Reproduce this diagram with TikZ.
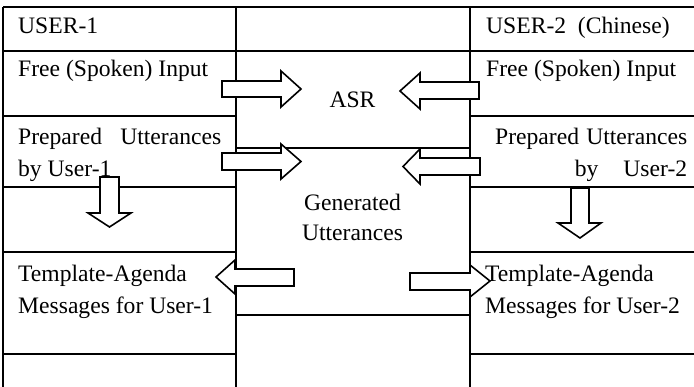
\documentclass[tikz,border=0pt]{standalone}
\usepackage{fontspec}
\setmainfont{Liberation Serif}
\begin{document}
\begin{tikzpicture}[x=1pt,y=-1pt,
  grid/.style={line width=1.9pt},
  boxline/.style={line width=2.2pt},
  thinline/.style={line width=1.3pt},
  blockarrow/.style={draw=black,fill=white,line width=1.6pt,line join=miter},
  lbl/.style={inner sep=0pt,anchor=base west,font=\fontsize{23.6}{31.5}\selectfont},
  lblc/.style={inner sep=0pt,anchor=base,font=\fontsize{23.6}{31.5}\selectfont}]
\useasboundingbox (0,0) rectangle (694,387);
% table grid
\draw[grid] (3,7) -- (694,7);
\draw[grid] (3,51) -- (694,51);
\draw[grid] (3,7) -- (3,387);
\draw[grid] (236,7) -- (236,387);
\draw[grid] (470,7) -- (470,387);
\draw[grid] (236,148) -- (470,148);
\draw[boxline] (236,315) -- (250,315);
\draw[thinline] (250,315) -- (470,315);
% boxes
\draw[boxline] (236,116) -- (3,116) -- (3,187) -- (236,187);
\draw[boxline] (694,116) -- (470,116) -- (470,187) -- (694,187);
\draw[boxline] (236,252) -- (3,252) -- (3,354) -- (236,354);
\draw[boxline] (694,252) -- (470,252) -- (470,354) -- (694,354);
% block arrows
\draw[blockarrow] (222,81) -- (281,81) -- (281,71) -- (301,89) -- (281,107) -- (281,97) -- (222,97) -- cycle;
\draw[blockarrow] (222,153) -- (281,153) -- (281,144) -- (301,161.5) -- (281,179) -- (281,170) -- (222,170) -- cycle;
\draw[blockarrow] (479,82) -- (420,82) -- (420,73) -- (400,91) -- (420,109) -- (420,99) -- (479,99) -- cycle;
\draw[blockarrow] (480,158) -- (420,158) -- (420,149) -- (403,166.5) -- (420,184) -- (420,175) -- (480,175) -- cycle;
\draw[blockarrow] (294,269) -- (235,269) -- (235,260) -- (216,277) -- (235,294) -- (235,286) -- (294,286) -- cycle;
\draw[blockarrow] (410,273) -- (470,273) -- (470,265) -- (490,281) -- (470,297) -- (470,290) -- (410,290) -- cycle;
\draw[blockarrow] (100,177) -- (100,213) -- (88,213) -- (109.5,227) -- (131,213) -- (119,213) -- (119,177) -- cycle;
\draw[blockarrow] (571,188) -- (571,223) -- (558,223) -- (580,238) -- (601,223) -- (589,223) -- (589,188) -- cycle;
% labels
\node[lbl] (u1) at (18,34) {USER-1};
\node[lbl] (u2) at (486,34) {USER-2\ \ (Chinese)};
\node[lbl] (f1) at (18,77) {Free (Spoken) Input};
\node[lbl] (f2) at (486,77) {Free (Spoken) Input};
\node[lblc] (asr) at (352.5,108) {ASR};
\node[lbl] (p1) at (18,145) {\vtop{\baselineskip=31.7pt\hbox to 203pt{Prepared\hfill Utterances}\hbox{by User-1}}};
\node[lbl] (p2) at (495,145) {\vtop{\baselineskip=31.7pt\hbox to 192pt{Prepared Utterances}\hbox to 192pt{\hfill by\hspace{25pt}User-2}}};
\node[lblc] (gen) at (352.5,211) {\vtop{\baselineskip=29.5pt\hbox to 0pt{\hss Generated\hss}\hbox to 0pt{\hss Utterances\hss}}};
\node[lbl] (t1) at (18,282) {\vtop{\baselineskip=31.5pt\hbox{Template-Agenda}\hbox{Messages for User-1}}};
\node[lbl] (t2) at (485,282) {\vtop{\baselineskip=31.5pt\hbox{Template-Agenda}\hbox{Messages for User-2}}};
\end{tikzpicture}
\end{document}
